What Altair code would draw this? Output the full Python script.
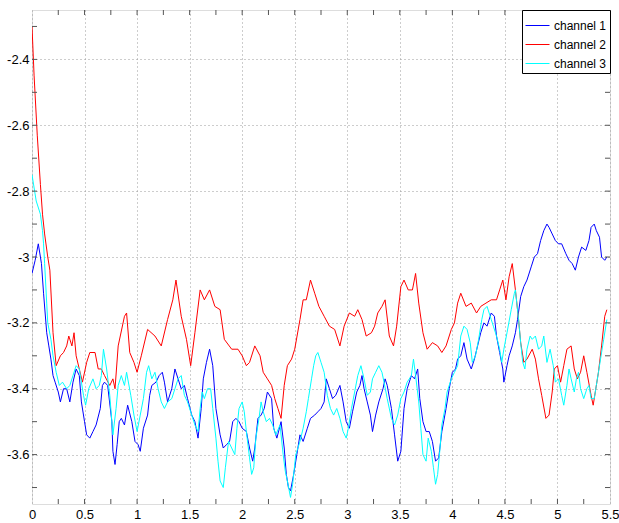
import altair as alt
import pandas as pd

# ---- channel 1 (blue) ----
t1 = [0.00, 0.03, 0.06, 0.09, 0.11, 0.14, 0.16, 0.18, 0.20, 0.22, 0.25, 0.27, 0.30, 0.33, 0.36, 0.39,
      0.42, 0.45, 0.47, 0.50, 0.52, 0.55, 0.58, 0.61, 0.65, 0.67, 0.69, 0.72, 0.76, 0.77, 0.79, 0.81,
      0.83, 0.85, 0.88, 0.91, 0.95, 0.98, 1.01, 1.03, 1.06, 1.10, 1.12, 1.14, 1.18, 1.21, 1.24, 1.26,
      1.29, 1.33, 1.36, 1.39, 1.42, 1.45, 1.48, 1.52, 1.55, 1.58, 1.61, 1.63, 1.66, 1.69, 1.72, 1.75,
      1.79, 1.82, 1.85, 1.88, 1.91, 1.94, 1.97, 2.00, 2.04, 2.07, 2.10, 2.12, 2.15, 2.18, 2.21, 2.24,
      2.28, 2.30, 2.33, 2.37, 2.40, 2.42, 2.44, 2.46, 2.49, 2.52, 2.55, 2.58, 2.62, 2.65, 2.69, 2.72,
      2.75, 2.78, 2.80, 2.83, 2.86, 2.89, 2.93, 2.96, 2.99, 3.02, 3.05, 3.09, 3.12, 3.14, 3.16, 3.19,
      3.22, 3.24, 3.27, 3.30, 3.34, 3.36, 3.38, 3.42, 3.45, 3.48, 3.51, 3.54, 3.57, 3.61, 3.64, 3.67,
      3.69, 3.72, 3.75, 3.78, 3.81, 3.84, 3.87, 3.90, 3.94, 3.97, 4.00, 4.03, 4.05, 4.08, 4.11, 4.14,
      4.18, 4.21, 4.24, 4.27, 4.30, 4.33, 4.37, 4.40, 4.42, 4.45, 4.48, 4.49, 4.52, 4.54, 4.57, 4.60,
      4.62, 4.65, 4.68, 4.71, 4.75, 4.78, 4.81, 4.84, 4.87, 4.90, 4.92, 4.95, 4.98, 5.01, 5.04, 5.08,
      5.11, 5.14, 5.17, 5.20, 5.23, 5.27, 5.30, 5.32, 5.35, 5.37, 5.40, 5.42, 5.45, 5.47]
ch1 = [-3.05, -3.01, -2.96, -3.02, -3.11, -3.23, -3.27, -3.31, -3.36, -3.38, -3.41, -3.44, -3.40, -3.40, -3.44, -3.38,
       -3.34, -3.36, -3.44, -3.50, -3.54, -3.55, -3.53, -3.51, -3.46, -3.39, -3.38, -3.39, -3.50, -3.59, -3.63, -3.57,
       -3.50, -3.49, -3.51, -3.45, -3.50, -3.56, -3.57, -3.59, -3.52, -3.48, -3.42, -3.39, -3.38, -3.36, -3.35, -3.38,
       -3.44, -3.40, -3.34, -3.37, -3.40, -3.39, -3.43, -3.48, -3.50, -3.55, -3.46, -3.37, -3.32, -3.28, -3.33, -3.46,
       -3.54, -3.58, -3.57, -3.56, -3.50, -3.49, -3.50, -3.52, -3.53, -3.58, -3.62, -3.58, -3.49, -3.48, -3.46, -3.41,
       -3.43, -3.52, -3.55, -3.50, -3.58, -3.66, -3.70, -3.71, -3.66, -3.60, -3.54, -3.56, -3.52, -3.49, -3.48, -3.47,
       -3.46, -3.44, -3.37, -3.40, -3.43, -3.42, -3.39, -3.44, -3.50, -3.52, -3.47, -3.41, -3.39, -3.36, -3.40, -3.44,
       -3.48, -3.53, -3.48, -3.44, -3.40, -3.37, -3.39, -3.46, -3.54, -3.62, -3.59, -3.46, -3.40, -3.36, -3.37, -3.34,
       -3.43, -3.50, -3.53, -3.53, -3.56, -3.62, -3.61, -3.53, -3.46, -3.40, -3.35, -3.34, -3.31, -3.30, -3.26, -3.31,
       -3.34, -3.31, -3.27, -3.23, -3.20, -3.21, -3.17, -3.18, -3.24, -3.29, -3.34, -3.38, -3.33, -3.30, -3.27, -3.23,
       -3.19, -3.12, -3.09, -3.07, -3.03, -3.00, -2.99, -2.95, -2.92, -2.90, -2.91, -2.93, -2.95, -2.96, -2.96, -2.99,
       -3.01, -3.02, -3.04, -3.00, -2.97, -2.98, -2.95, -2.91, -2.90, -2.92, -2.94, -3.00, -3.01, -3.00]

# ---- channel 2 (red) ----
t2 = [0.00, 0.02, 0.05, 0.08, 0.10, 0.12, 0.15, 0.17, 0.20, 0.23, 0.27, 0.30, 0.33, 0.35, 0.38, 0.40,
      0.42, 0.45, 0.48, 0.52, 0.55, 0.60, 0.63, 0.66, 0.69, 0.74, 0.77, 0.79, 0.82, 0.88, 0.90, 0.93,
      0.97, 1.00, 1.04, 1.10, 1.17, 1.23, 1.29, 1.34, 1.37, 1.42, 1.47, 1.51, 1.55, 1.60, 1.64, 1.69,
      1.74, 1.79, 1.83, 1.90, 1.96, 2.00, 2.04, 2.07, 2.12, 2.17, 2.20, 2.24, 2.28, 2.31, 2.34, 2.37,
      2.40, 2.43, 2.47, 2.50, 2.55, 2.58, 2.61, 2.65, 2.69, 2.73, 2.78, 2.83, 2.88, 2.93, 2.97, 3.02,
      3.07, 3.10, 3.14, 3.18, 3.23, 3.26, 3.29, 3.33, 3.36, 3.40, 3.44, 3.47, 3.51, 3.54, 3.58, 3.62,
      3.65, 3.68, 3.72, 3.76, 3.81, 3.86, 3.90, 3.94, 3.99, 4.02, 4.05, 4.08, 4.13, 4.18, 4.23, 4.27,
      4.32, 4.37, 4.42, 4.45, 4.48, 4.51, 4.54, 4.57, 4.60, 4.63, 4.65, 4.68, 4.71, 4.76, 4.79, 4.82,
      4.85, 4.89, 4.92, 4.95, 4.97, 5.00, 5.03, 5.06, 5.09, 5.13, 5.16, 5.19, 5.22, 5.25, 5.28, 5.32,
      5.34, 5.36, 5.39, 5.42, 5.45, 5.47]
ch2 = [-2.30, -2.45, -2.63, -2.78, -2.87, -2.93, -3.00, -3.04, -3.23, -3.33, -3.30, -3.29, -3.27, -3.24, -3.27, -3.23,
       -3.30, -3.34, -3.38, -3.32, -3.29, -3.29, -3.34, -3.34, -3.36, -3.39, -3.37, -3.40, -3.27, -3.18, -3.17, -3.29,
       -3.32, -3.35, -3.30, -3.22, -3.24, -3.27, -3.19, -3.13, -3.07, -3.18, -3.25, -3.33, -3.23, -3.10, -3.13, -3.10,
       -3.15, -3.16, -3.25, -3.28, -3.28, -3.30, -3.33, -3.32, -3.27, -3.30, -3.35, -3.37, -3.39, -3.43, -3.46, -3.49,
       -3.39, -3.33, -3.31, -3.28, -3.19, -3.13, -3.13, -3.07, -3.11, -3.15, -3.18, -3.21, -3.22, -3.27, -3.21, -3.17,
       -3.18, -3.16, -3.19, -3.24, -3.23, -3.21, -3.17, -3.15, -3.13, -3.24, -3.27, -3.21, -3.09, -3.07, -3.10, -3.10,
       -3.05, -3.14, -3.23, -3.28, -3.26, -3.27, -3.29, -3.27, -3.22, -3.20, -3.14, -3.11, -3.15, -3.14, -3.17, -3.15,
       -3.14, -3.13, -3.13, -3.10, -3.07, -3.13, -3.06, -3.02, -3.10, -3.19, -3.26, -3.32, -3.31, -3.28, -3.31, -3.37,
       -3.42, -3.49, -3.48, -3.41, -3.34, -3.33, -3.38, -3.33, -3.28, -3.27, -3.34, -3.37, -3.35, -3.30, -3.35, -3.42,
       -3.45, -3.41, -3.35, -3.27, -3.18, -3.16]

# ---- channel 3 (cyan) ----
t3 = [0.00, 0.04, 0.08, 0.10, 0.11, 0.12, 0.14, 0.15, 0.18, 0.20, 0.23, 0.26, 0.29, 0.33, 0.36, 0.39,
      0.42, 0.45, 0.49, 0.51, 0.54, 0.58, 0.61, 0.64, 0.66, 0.68, 0.71, 0.74, 0.76, 0.77, 0.80, 0.82,
      0.85, 0.88, 0.90, 0.94, 0.97, 1.00, 1.03, 1.06, 1.09, 1.11, 1.14, 1.17, 1.20, 1.23, 1.26, 1.29,
      1.33, 1.36, 1.39, 1.42, 1.45, 1.48, 1.52, 1.55, 1.58, 1.60, 1.62, 1.64, 1.67, 1.70, 1.72, 1.75,
      1.77, 1.79, 1.82, 1.84, 1.87, 1.90, 1.93, 1.95, 1.97, 2.00, 2.02, 2.04, 2.07, 2.09, 2.11, 2.13,
      2.16, 2.18, 2.20, 2.23, 2.26, 2.29, 2.32, 2.36, 2.39, 2.41, 2.43, 2.46, 2.48, 2.51, 2.55, 2.58,
      2.61, 2.63, 2.66, 2.68, 2.70, 2.72, 2.75, 2.78, 2.81, 2.84, 2.87, 2.90, 2.93, 2.96, 2.99, 3.01,
      3.04, 3.07, 3.10, 3.13, 3.16, 3.19, 3.22, 3.24, 3.27, 3.30, 3.33, 3.35, 3.38, 3.42, 3.45, 3.48,
      3.51, 3.54, 3.57, 3.61, 3.63, 3.65, 3.68, 3.70, 3.72, 3.75, 3.77, 3.80, 3.82, 3.84, 3.86, 3.88,
      3.90, 3.93, 3.95, 3.99, 4.02, 4.05, 4.08, 4.11, 4.14, 4.17, 4.19, 4.22, 4.25, 4.28, 4.30, 4.33,
      4.37, 4.39, 4.42, 4.45, 4.47, 4.49, 4.52, 4.56, 4.59, 4.60, 4.63, 4.65, 4.67, 4.69, 4.71, 4.74,
      4.76, 4.79, 4.82, 4.85, 4.87, 4.90, 4.93, 4.96, 4.98, 5.01, 5.04, 5.06, 5.09, 5.11, 5.13, 5.16,
      5.18, 5.20, 5.22, 5.25, 5.28, 5.30, 5.32, 5.35, 5.37, 5.39, 5.41, 5.44, 5.47]
ch3 = [-2.75, -2.83, -2.87, -2.92, -2.96, -3.02, -3.14, -3.20, -3.25, -3.30, -3.35, -3.39, -3.38, -3.40, -3.39, -3.36,
       -3.33, -3.34, -3.42, -3.45, -3.40, -3.37, -3.40, -3.39, -3.36, -3.28, -3.34, -3.42, -3.50, -3.54, -3.46, -3.39,
       -3.36, -3.39, -3.35, -3.42, -3.48, -3.53, -3.48, -3.43, -3.35, -3.33, -3.37, -3.35, -3.40, -3.44, -3.46, -3.44,
       -3.43, -3.40, -3.37, -3.36, -3.42, -3.44, -3.48, -3.51, -3.53, -3.46, -3.41, -3.43, -3.40, -3.40, -3.46, -3.55,
       -3.62, -3.68, -3.70, -3.64, -3.56, -3.58, -3.60, -3.52, -3.46, -3.44, -3.47, -3.53, -3.61, -3.66, -3.64, -3.55,
       -3.49, -3.44, -3.47, -3.50, -3.49, -3.51, -3.54, -3.51, -3.60, -3.65, -3.68, -3.73, -3.69, -3.60, -3.56, -3.52,
       -3.47, -3.43, -3.37, -3.33, -3.30, -3.29, -3.32, -3.35, -3.42, -3.46, -3.48, -3.46, -3.49, -3.53, -3.55, -3.52,
       -3.46, -3.41, -3.36, -3.33, -3.37, -3.42, -3.41, -3.37, -3.35, -3.33, -3.35, -3.38, -3.43, -3.49, -3.51, -3.48,
       -3.43, -3.41, -3.38, -3.36, -3.31, -3.36, -3.44, -3.52, -3.60, -3.62, -3.55, -3.59, -3.64, -3.69, -3.66, -3.59,
       -3.51, -3.46, -3.41, -3.37, -3.35, -3.33, -3.24, -3.21, -3.22, -3.26, -3.32, -3.30, -3.25, -3.19, -3.16, -3.15,
       -3.19, -3.21, -3.24, -3.28, -3.32, -3.28, -3.23, -3.16, -3.11, -3.10, -3.19, -3.26, -3.32, -3.34, -3.28, -3.24,
       -3.25, -3.24, -3.28, -3.27, -3.24, -3.32, -3.28, -3.33, -3.38, -3.37, -3.42, -3.45, -3.39, -3.34, -3.37, -3.41,
       -3.37, -3.35, -3.40, -3.43, -3.40, -3.39, -3.43, -3.43, -3.39, -3.35, -3.31, -3.25, -3.19]

channels = ["channel 1", "channel 2", "channel 3"]
colors = ["#0000ff", "#ff0000", "#00ffff"]

x_major = [0, 0.5, 1, 1.5, 2, 2.5, 3, 3.5, 4, 4.5, 5, 5.5]
y_major = [-3.6, -3.4, -3.2, -3, -2.8, -2.6, -2.4]
x_minor = [0.25, 0.5, 0.75, 1, 1.25, 1.5, 1.75, 2, 2.25, 2.5, 2.75, 3, 3.25, 3.5, 3.75, 4, 4.25, 4.5,
           4.75, 5, 5.25]
y_minor = [-3.7, -3.6, -3.5, -3.4, -3.3, -3.2, -3.1, -3, -2.9, -2.8, -2.7, -2.6, -2.5, -2.4, -2.3]

rows = []
for name, ts, vs in zip(channels, [t1, t2, t3], [ch1, ch2, ch3]):
    for i, (t, v) in enumerate(zip(ts, vs)):
        rows.append({"t": t, "v": v, "channel": name, "idx": i})
df = pd.DataFrame(rows)

W, H = 578, 494
AXC = "#555555"
FONT = "Liberation Sans"

xs = alt.Scale(domain=[0, 5.5], nice=False, zero=False)
ys = alt.Scale(domain=[-3.75, -2.25], nice=False, zero=False)

x_axis = alt.Axis(
    values=x_major, grid=True, ticks=False, domain=False, title=None,
    labelExpr="'' + datum.value", labelFlush=False, labelOverlap=False,
    labelPadding=4, labelFontSize=13, labelFont=FONT, labelColor="black",
    gridDash=[1, 3], gridColor="#9a9a9a", gridWidth=1)
y_axis = alt.Axis(
    values=y_major, grid=True, ticks=False, domain=False, title=None,
    labelExpr="'' + datum.value", labelFlush=False, labelOverlap=False,
    labelPadding=3, labelFontSize=13, labelFont=FONT, labelColor="black",
    gridDash=[1, 3], gridColor="#9a9a9a", gridWidth=1)

lines = alt.Chart(df).mark_line(strokeWidth=1, clip=True).encode(
    x=alt.X("t:Q", scale=xs, axis=x_axis),
    y=alt.Y("v:Q", scale=ys, axis=y_axis),
    color=alt.Color("channel:N", scale=alt.Scale(domain=channels, range=colors),
                    legend=alt.Legend(
                        title=None, orient="top-right", offset=0,
                        strokeColor="black", fillColor="white", padding=3,
                        symbolSize=576, symbolStrokeWidth=1,
                        labelFontSize=12, labelFont=FONT, labelColor="black",
                        labelOffset=4, rowPadding=0)),
    order=alt.Order("idx:Q"),
)

xt = pd.DataFrame({"t": x_minor})
yt = pd.DataFrame({"v": y_minor})

tick_b = alt.Chart(xt).mark_rule(color=AXC, strokeWidth=1).encode(
    x=alt.X("t:Q", scale=xs), y=alt.value(H), y2=alt.value(H - 5))
tick_t = alt.Chart(xt).mark_rule(color=AXC, strokeWidth=1).encode(
    x=alt.X("t:Q", scale=xs), y=alt.value(0), y2=alt.value(5))
tick_l = alt.Chart(yt).mark_rule(color=AXC, strokeWidth=1).encode(
    y=alt.Y("v:Q", scale=ys), x=alt.value(0), x2=alt.value(5))
tick_r = alt.Chart(yt).mark_rule(color=AXC, strokeWidth=1).encode(
    y=alt.Y("v:Q", scale=ys), x=alt.value(W), x2=alt.value(W - 5))

chart = alt.layer(lines, tick_b, tick_t, tick_l, tick_r).properties(
    width=W, height=H,
    padding={"left": 32, "top": 10, "right": 9, "bottom": 19},
    autosize=alt.AutoSizeParams(type="none"),
).configure_view(stroke=AXC, strokeWidth=1).configure(background="white")

chart.save("out.html", embed_options={"renderer": "svg", "actions": False})
